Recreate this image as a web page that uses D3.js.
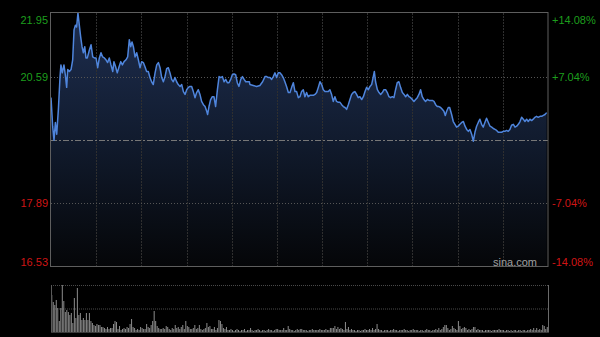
<!DOCTYPE html>
<html>
<head>
<meta charset="utf-8">
<script src="https://cdn.jsdelivr.net/npm/d3@7"></script>
<style>
  body { margin: 0; background: #000; }
  svg { display: block; }
</style>
</head>
<body>
<div id="chart"></div>
<script>
// minutes since the open (HK session, 330 trading minutes)
const minutes = [
  0,1.1,2.0,2.9,3.8,4.9,6.0,6.6,7.5,8.6,9.5,10.4,11.1,12.2,13.3,14.4,15.3,16.2,17.0,17.9,
  18.8,19.7,20.6,21.5,22.4,23.2,24.1,25.5,26.6,27.7,28.8,29.9,31.0,32.1,33.2,34.3,35.4,36.5,37.6,38.7,
  39.8,41.0,41.8,42.9,44.0,45.2,46.3,47.4,48.5,49.8,50.9,52.0,52.9,53.8,54.7,55.8,56.9,58.0,59.1,60.2,
  61.3,62.4,63.5,64.6,
  65.7,66.8,67.9,69.1,70.2,71.3,72.4,73.5,74.6,75.7,76.8,77.9,79.0,80.1,81.2,82.3,83.4,84.5,85.7,86.8,
  87.9,89.0,90.1,91.2,92.3,93.4,94.5,95.6,96.7,97.8,98.9,100.0,101.2,102.3,103.4,104.0,104.9,106.0,107.1,108.2,
  109.3,110.5,111.6,112.7,113.8,114.9,116.0,117.1,118.2,119.3,120.4,121.5,122.6,123.7,124.8,126.0,127.1,128.2,129.3,130.4,
  131.7,
  132.1,134.3,136.5,138.7,140.5,142.1,143.2,144.3,145.4,146.5,147.6,148.7,149.8,150.9,152.0,153.1,154.2,155.3,156.4,157.6,
  158.7,159.8,160.9,162.0,163.1,164.2,165.3,166.4,167.5,168.6,169.7,170.8,171.9,173.0,174.2,175.3,176.4,177.5,178.6,179.7,
  180.8,181.9,183.0,184.1,185.2,186.3,187.4,188.5,189.6,190.8,191.9,193.0,194.1,195.2,196.3,197.4,
  198.5,199.6,200.7,201.8,202.9,204.0,205.1,206.3,207.4,208.5,209.6,210.7,211.8,212.9,214.0,214.7,215.5,216.7,217.8,218.9,
  220.0,221.1,222.2,223.3,224.4,225.5,226.6,227.7,228.8,229.9,231.0,232.1,233.3,234.4,235.5,236.6,237.7,238.8,239.9,241.0,
  242.1,243.2,244.3,245.4,246.5,247.6,248.7,249.9,251.0,252.1,253.2,254.3,255.4,256.5,257.6,258.7,259.8,260.9,261.8,262.7,
  263.8,264.7,
  266.0,267.1,268.2,269.3,270.4,271.5,272.7,273.8,274.9,276.0,277.1,278.2,279.3,280.4,281.5,282.6,283.7,284.8,285.9,287.0,
  288.1,289.2,290.4,291.5,292.6,293.7,294.8,295.9,297.0,298.1,299.2,300.3,301.4,302.5,303.6,304.7,305.8,307.0,308.1,309.2,
  310.3,311.4,312.5,313.6,314.7,315.8,316.9,318.0,319.1,320.2,321.3,322.4,323.5,324.7,325.8,326.9,328.0,329.1
];

const prices = [
  20.14,19.53,19.23,19.61,19.36,19.89,20.59,20.84,20.67,20.84,20.63,20.36,20.74,20.70,20.74,20.95,21.59,21.69,21.65,21.95,
  21.69,21.44,21.23,21.10,21.23,20.99,20.99,21.16,21.27,21.01,20.99,20.99,20.78,20.99,21.10,21.01,20.99,20.95,20.89,20.99,
  20.84,20.70,20.91,20.80,20.67,20.80,20.91,20.84,20.91,20.95,21.01,21.38,21.23,21.33,21.23,21.01,21.10,20.95,20.78,20.91,
  20.89,20.80,20.70,20.70,
  20.57,20.48,20.42,20.67,20.84,20.89,20.78,20.57,20.48,20.59,20.76,20.78,20.67,20.53,20.48,20.57,20.48,20.42,20.38,20.42,
  20.27,20.21,20.31,20.36,20.38,20.38,20.27,20.14,20.25,20.31,20.21,20.06,19.99,19.95,19.85,19.78,19.95,20.10,20.16,20.16,
  19.95,20.31,20.59,20.57,20.59,20.48,20.53,20.46,20.46,20.53,20.63,20.65,20.63,20.46,20.38,20.53,20.59,20.53,20.48,20.48,
  20.48,
  20.42,20.40,20.38,20.40,20.48,20.59,20.59,20.57,20.57,20.53,20.59,20.67,20.57,20.67,20.67,20.63,20.57,20.48,20.38,20.25,
  20.25,20.36,20.46,20.27,20.27,20.14,20.16,20.27,20.31,20.16,20.25,20.16,20.19,20.19,20.19,20.21,20.25,20.36,20.48,20.42,
  20.31,20.27,20.27,20.27,20.31,20.21,20.06,20.16,20.06,20.04,20.04,19.99,19.95,19.93,19.89,19.99,
  20.10,20.21,20.25,20.27,20.21,20.14,20.16,20.10,20.16,20.27,20.36,20.31,20.38,20.42,20.59,20.70,20.48,20.31,20.25,20.21,
  20.25,20.31,20.31,20.25,20.16,20.14,20.16,20.14,20.31,20.46,20.48,20.36,20.25,20.21,20.16,20.21,20.16,20.14,20.10,20.06,
  20.10,20.14,20.21,20.31,20.16,20.10,20.06,20.10,20.08,20.08,20.08,20.06,19.99,19.95,19.95,19.93,19.89,19.85,19.76,19.85,
  19.93,19.93,
  19.78,19.63,19.57,19.51,19.53,19.57,19.61,19.63,19.53,19.46,19.42,19.46,19.36,19.21,19.40,19.53,19.61,19.68,19.57,19.51,
  19.61,19.70,19.61,19.53,19.51,19.48,19.46,19.44,19.40,19.40,19.40,19.42,19.42,19.44,19.42,19.46,19.55,19.57,19.51,19.53,
  19.57,19.63,19.72,19.68,19.63,19.68,19.63,19.68,19.65,19.68,19.72,19.74,19.72,19.74,19.74,19.76,19.78,19.82
];

// volume per minute, one row per half hour
const volumes = [
  37,30,27,32,24,11,24,47,31,20,22,20,17,19,9,34,14,44,17,19,12,14,12,19,12,19,11,9,7,6,
  8,7,7,5,5,4,3,5,3,4,4,8,11,10,3,6,2,3,4,3,5,4,8,13,5,4,2,3,2,5,
  4,3,3,8,5,4,7,11,21,11,6,4,3,3,4,3,6,5,3,2,4,3,7,4,5,3,5,7,3,11,
  6,5,3,3,4,7,3,4,7,3,2,3,4,9,5,6,3,3,5,2,4,12,11,8,4,3,5,2,2,3,
  2,1,2,3,2,1,2,2,3,1,2,2,4,2,1,2,2,3,2,1,2,2,1,2,3,2,2,1,2,3,
  3,2,2,2,4,2,2,6,3,2,2,1,2,3,2,3,3,2,2,2,1,2,2,3,2,2,2,2,3,2,
  2,2,3,2,2,4,4,4,6,3,5,3,4,3,2,10,3,5,2,3,2,2,1,2,2,1,2,2,3,2,
  2,3,2,4,2,3,8,3,2,2,1,2,2,2,1,2,2,3,2,2,1,2,2,2,3,2,2,1,2,2,
  3,2,2,2,1,2,2,1,2,3,2,2,1,2,2,3,2,4,2,3,5,7,7,4,2,3,6,4,3,2,
  11,6,3,4,5,4,2,3,2,3,5,5,2,3,2,2,2,1,2,2,2,2,1,2,2,2,2,3,2,2,
  2,1,2,2,1,2,1,2,2,1,2,2,1,2,2,1,2,2,3,2,4,2,4,2,3,2,7,6,3,5
];

const prevClose = 19.24;
const priceTicks = [21.95, 20.59, 17.89, 16.53];
const pctTicks = ["+14.08%", "+7.04%", "-7.04%", "-14.08%"];
const sessionMinutes = 330;

const W = 600, H = 337;
const green = "#1d9e1d", red = "#d01515";

const svg = d3.select("#chart").append("svg")
  .attr("width", W)
  .attr("height", H)
  .style("background", "#000");

const x = d3.scaleLinear().domain([0, sessionMinutes]).range([51, 548]);
const y = d3.scaleLinear().domain([16.53, 21.95]).range([266.5, 13]);
const yv = d3.scaleLinear().domain([0, 47]).range([332, 285]);

const series = minutes.map((m, i) => ({ m: m, p: prices[i] })).filter(d => d.p != null);

// gradient under the price line
const defs = svg.append("defs");
const grad = defs.append("linearGradient")
  .attr("id", "fill")
  .attr("gradientUnits", "userSpaceOnUse")
  .attr("x1", 0).attr("x2", 0)
  .attr("y1", y(21.95)).attr("y2", y(16.53));
grad.append("stop").attr("offset", "0%").attr("stop-color", "#1e2e50");
grad.append("stop").attr("offset", "50%").attr("stop-color", "#111b2e");
grad.append("stop").attr("offset", "100%").attr("stop-color", "#050608");

svg.append("path")
  .datum(series)
  .attr("fill", "url(#fill)")
  .attr("d", d3.area()
    .x(d => x(d.m))
    .y0(y(16.53))
    .y1(d => y(d.p)));

// vertical grid every half hour
const halfHours = d3.range(30, sessionMinutes, 30);
svg.append("g").selectAll("line")
  .data(halfHours)
  .join("line")
  .attr("x1", d => Math.round(x(d)) + 0.5)
  .attr("x2", d => Math.round(x(d)) + 0.5)
  .attr("y1", 13)
  .attr("y2", 266)
  .attr("stroke", "#2f2f2f")
  .attr("stroke-dasharray", "2,1");

// horizontal grid
svg.append("g").selectAll("line")
  .data([20.59, 17.89])
  .join("line")
  .attr("x1", 51).attr("x2", 548)
  .attr("y1", d => Math.round(y(d)) + 0.5)
  .attr("y2", d => Math.round(y(d)) + 0.5)
  .attr("stroke", "#555")
  .attr("stroke-dasharray", "1,2");

svg.append("line")
  .attr("x1", 51).attr("x2", 548)
  .attr("y1", Math.round(y(prevClose)) + 0.5)
  .attr("y2", Math.round(y(prevClose)) + 0.5)
  .attr("stroke", "#777")
  .attr("stroke-dasharray", "6,2,2,2");

// price line
svg.append("path")
  .datum(series)
  .attr("fill", "none")
  .attr("stroke", "#4f85dc")
  .attr("stroke-width", 1.5)
  .attr("stroke-linejoin", "round")
  .attr("d", d3.line().x(d => x(d.m)).y(d => y(d.p)));

// frame
svg.append("rect")
  .attr("x", 50.5).attr("y", 12.5)
  .attr("width", 497.5).attr("height", 254)
  .attr("fill", "none")
  .attr("stroke", "#5e5e5e");

// price labels
const leftAxis = svg.append("g")
  .attr("transform", "translate(48,0)")
  .call(d3.axisLeft(y).tickValues(priceTicks).tickSize(0).tickPadding(0).tickFormat(d3.format(".2f")));
leftAxis.select(".domain").remove();

const rightAxis = svg.append("g")
  .attr("transform", "translate(552,0)")
  .call(d3.axisRight(y).tickValues(priceTicks).tickSize(0).tickPadding(0).tickFormat((d, i) => pctTicks[i]));
rightAxis.select(".domain").remove();

[leftAxis, rightAxis].forEach(g => {
  g.selectAll("text")
    .attr("font-family", "'Liberation Sans', Arial, sans-serif")
    .attr("font-size", 11)
    .attr("fill", d => d > prevClose ? green : red)
    .attr("dy", (d, i) => i === 0 ? "0.95em" : i === priceTicks.length - 1 ? "-0.1em" : "0.32em");
});

svg.append("text")
  .attr("x", 537).attr("y", 266)
  .attr("text-anchor", "end")
  .attr("font-family", "'Liberation Sans', Arial, sans-serif")
  .attr("font-size", 11)
  .attr("fill", "#a0a0a0")
  .text("sina.com");

// volume panel
svg.append("g").selectAll("line")
  .data([285, 308.5])
  .join("line")
  .attr("x1", 51).attr("x2", 548)
  .attr("y1", d => d + 0.5).attr("y2", d => d + 0.5)
  .attr("stroke", "#4a4a4a")
  .attr("stroke-dasharray", "1,1");

svg.append("g").selectAll("rect")
  .data(volumes)
  .join("rect")
  .attr("x", (d, i) => x(i + 0.5) - 0.5)
  .attr("y", d => yv(d))
  .attr("width", 1)
  .attr("height", d => yv(0) - yv(d))
  .attr("fill", "#8c8c8c");

svg.append("line")
  .attr("x1", 51.5).attr("x2", 51.5).attr("y1", 285).attr("y2", 332)
  .attr("stroke", "#5a5a5a");
svg.append("line")
  .attr("x1", 548.5).attr("x2", 548.5).attr("y1", 285).attr("y2", 333)
  .attr("stroke", "#6a6a6a");
svg.append("line")
  .attr("x1", 51).attr("x2", 549).attr("y1", 332.5).attr("y2", 332.5)
  .attr("stroke", "#3a3a3a");
</script>
</body>
</html>
